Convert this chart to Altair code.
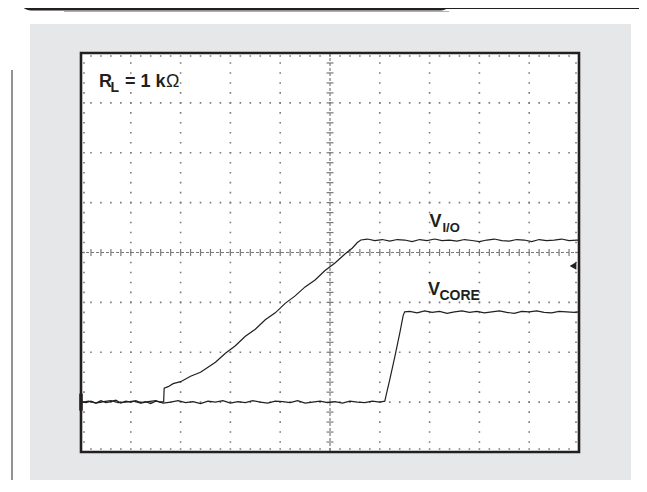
import altair as alt
import pandas as pd

# ---------------- data (oscilloscope divisions: x 0..10, y 0..8) ----------------
vio_x = [0.0, 0.1, 0.2, 0.3, 0.4, 0.5, 0.6, 0.7, 0.8, 0.9, 1.0, 1.1, 1.2, 1.3, 1.4, 1.5, 1.6, 1.66,
         1.67, 1.75, 1.85, 2.0, 2.2, 2.4, 2.55, 2.7, 2.9, 3.1, 3.3, 3.5, 3.7, 3.9, 4.1, 4.3, 4.5, 4.7,
         4.9, 5.1, 5.3, 5.45, 5.55, 5.62,
         5.75, 5.9, 6.05, 6.2, 6.35, 6.5, 6.65, 6.8, 6.95, 7.1, 7.25, 7.4, 7.55, 7.7, 7.85, 8.0,
         8.15, 8.3, 8.45, 8.6, 8.75, 8.9, 9.05, 9.2, 9.35, 9.5, 9.65, 9.8, 9.95, 10.0]
vio_y = [1.01, 0.99, 1.02, 0.98, 1.03, 0.99, 1.01, 1.04, 0.98, 1.02, 1.00, 1.03, 0.99, 1.01, 0.97, 1.02, 1.00, 1.01,
         1.28, 1.31, 1.37, 1.41, 1.52, 1.60, 1.70, 1.80, 1.98, 2.13, 2.32, 2.46, 2.65, 2.79, 2.98, 3.13, 3.31, 3.45,
         3.64, 3.79, 3.97, 4.09, 4.20, 4.25,
         4.27, 4.24, 4.26, 4.23, 4.26, 4.25, 4.22, 4.26, 4.24, 4.27, 4.24, 4.25, 4.23, 4.26, 4.24, 4.22,
         4.25, 4.27, 4.24, 4.23, 4.26, 4.25, 4.22, 4.26, 4.24, 4.25, 4.27, 4.24, 4.25, 4.25]

vcore_x = [0.0, 0.15, 0.3, 0.45, 0.6, 0.75, 0.9, 1.05, 1.2, 1.35, 1.5, 1.65, 1.8, 1.95, 2.1, 2.25, 2.4,
           2.55, 2.7, 2.85, 3.0, 3.15, 3.3, 3.45, 3.6, 3.75, 3.9, 4.05, 4.2, 4.35, 4.5, 4.65, 4.8, 4.95,
           5.1, 5.25, 5.4, 5.55, 5.7, 5.85, 6.0, 6.1,
           6.13, 6.2, 6.3, 6.4, 6.47, 6.5,
           6.6, 6.75, 6.9, 7.05, 7.2, 7.35, 7.5, 7.65, 7.8, 7.95, 8.1, 8.25, 8.4, 8.55, 8.7, 8.85, 9.0,
           9.15, 9.3, 9.45, 9.6, 9.75, 9.9, 10.0]
vcore_y = [0.99, 1.02, 0.98, 1.01, 1.03, 0.99, 1.00, 1.02, 0.98, 1.01, 1.03, 0.98, 1.00, 1.03, 0.99, 1.01, 0.97,
           1.02, 1.00, 1.03, 0.98, 1.01, 0.99, 1.03, 1.00, 0.98, 1.02, 1.01, 0.99, 1.03, 0.98, 1.00, 1.02, 0.99,
           1.01, 0.98, 1.02, 1.00, 0.99, 1.02, 1.00, 1.02,
           1.15, 1.45, 1.90, 2.38, 2.74, 2.81,
           2.82, 2.79, 2.83, 2.80, 2.82, 2.78, 2.81, 2.83, 2.80, 2.82, 2.79, 2.81, 2.83, 2.80, 2.78, 2.82, 2.81,
           2.83, 2.80, 2.79, 2.82, 2.81, 2.80, 2.81]

# text annotations (division coordinates)
bold_text = ["R", "L", "= 1 k", "V", "I/O", "V", "CORE"]
bold_x = [0.361, 0.592, 0.884, 6.998, 7.259, 6.968, 7.199]
bold_y = [7.318, 7.218, 7.318, 4.505, 4.417, 3.148, 3.048]
bold_size = [18, 14, 18, 18, 13, 18, 14]
ohm_text = ["\u03a9"]
ohm_x = [1.707]
ohm_y = [7.318]

# scope markers
ground_y = [0.83, 1.17]
trigger_x = [9.88]
trigger_y = [3.73]

grid_x = [1, 2, 3, 4, 6, 7, 8, 9]
grid_y = [1, 2, 3, 5, 6, 7]
minor = [round(i * 0.2, 2) for i in range(0, 51)]
minor_y = [round(i * 0.2, 2) for i in range(0, 41)]

# ---------------- layout ----------------
W, H = 498, 399
INK = "#231f20"
GRID = "#7a7a7a"

xs = alt.Scale(domain=[0, 10], nice=False, zero=False)
ys = alt.Scale(domain=[0, 8], nice=False, zero=False)

one = pd.DataFrame({"a": [0]})

gray_panel = alt.Chart(one).mark_rect(fill="#e6e7e8").encode(
    x=alt.value(-51), x2=alt.value(550), y=alt.value(-29), y2=alt.value(428))
side_line = alt.Chart(one).mark_rule(color="#6d6e71", strokeWidth=1.5).encode(
    x=alt.value(-69), y=alt.value(17), y2=alt.value(440))
header_bar = alt.Chart(one).mark_rect(fill=INK, cornerRadiusBottomLeft=12, cornerRadiusBottomRight=10).encode(
    x=alt.value(-62), x2=alt.value(370), y=alt.value(-70), y2=alt.value(-42.5))
header_line = alt.Chart(one).mark_rule(color=INK, strokeWidth=1).encode(
    x=alt.value(362), x2=alt.value(566), y=alt.value(-44.5))
header_shadow = alt.Chart(one).mark_rule(color="#b0b0b0", strokeWidth=1).encode(
    x=alt.value(-17), x2=alt.value(368), y=alt.value(-41.5))
plot_bg = alt.Chart(one).mark_rect(fill="white").encode(
    x=alt.value(0), x2=alt.value(W), y=alt.value(0), y2=alt.value(H))

vgrid = alt.Chart(pd.DataFrame({"x": grid_x})).mark_rule(
    color=GRID, strokeWidth=1.6, strokeDash=[1.6, 8.375], strokeDashOffset=0.8).encode(
    x=alt.X("x:Q", scale=xs, axis=None))
hgrid = alt.Chart(pd.DataFrame({"y": grid_y})).mark_rule(
    color=GRID, strokeWidth=1.6, strokeDash=[1.6, 8.36], strokeDashOffset=0.8).encode(
    y=alt.Y("y:Q", scale=ys, axis=None))

# edge dots along frame
edge_h = pd.DataFrame({"y": [0.06, 7.94]})
edge_v = pd.DataFrame({"x": [0.06, 9.94]})
edge_hr = alt.Chart(edge_h).mark_rule(
    color=GRID, strokeWidth=1.6, strokeDash=[1.6, 8.36], strokeDashOffset=0.8).encode(
    y=alt.Y("y:Q", scale=ys, axis=None))
edge_vr = alt.Chart(edge_v).mark_rule(
    color=GRID, strokeWidth=1.6, strokeDash=[1.6, 8.375], strokeDashOffset=0.8).encode(
    x=alt.X("x:Q", scale=xs, axis=None))

# center crosshair
cross_h = alt.Chart(pd.DataFrame({"y": [4]})).mark_rule(
    color=GRID, strokeWidth=1.2, strokeDash=[3, 2]).encode(y=alt.Y("y:Q", scale=ys, axis=None))
cross_v = alt.Chart(pd.DataFrame({"x": [5]})).mark_rule(
    color=GRID, strokeWidth=1.2, strokeDash=[3, 2]).encode(x=alt.X("x:Q", scale=xs, axis=None))
tick_h = alt.Chart(pd.DataFrame({"x": minor, "y1": [3.93] * len(minor), "y2": [4.07] * len(minor)})).mark_rule(
    color=GRID, strokeWidth=1.2).encode(
    x=alt.X("x:Q", scale=xs, axis=None), y=alt.Y("y1:Q", scale=ys, axis=None), y2="y2:Q")
tick_v = alt.Chart(pd.DataFrame({"y": minor_y, "x1": [4.93] * len(minor_y), "x2": [5.07] * len(minor_y)})).mark_rule(
    color=GRID, strokeWidth=1.2).encode(
    y=alt.Y("y:Q", scale=ys, axis=None), x=alt.X("x1:Q", scale=xs, axis=None), x2="x2:Q")

traces = pd.concat([
    pd.DataFrame({"x": vio_x, "y": vio_y, "s": "VIO", "o": range(len(vio_x))}),
    pd.DataFrame({"x": vcore_x, "y": vcore_y, "s": "VCORE", "o": range(len(vcore_x))}),
])
lines = alt.Chart(traces).mark_line(color=INK, strokeWidth=1.2, interpolate="linear").encode(
    x=alt.X("x:Q", scale=xs, axis=None),
    y=alt.Y("y:Q", scale=ys, axis=None),
    detail="s:N", order="o:Q")

labels_bold = alt.Chart(pd.DataFrame({"t": bold_text, "x": bold_x, "y": bold_y, "fs": bold_size})).mark_text(
    align="left", baseline="alphabetic", font="Liberation Sans", fontWeight="bold", color=INK).encode(
    x=alt.X("x:Q", scale=xs, axis=None), y=alt.Y("y:Q", scale=ys, axis=None),
    text="t:N", size=alt.Size("fs:Q", scale=None, legend=None))
labels_ohm = alt.Chart(pd.DataFrame({"t": ohm_text, "x": ohm_x, "y": ohm_y})).mark_text(
    align="left", baseline="alphabetic", font="Liberation Sans", fontSize=18, color=INK).encode(
    x=alt.X("x:Q", scale=xs, axis=None), y=alt.Y("y:Q", scale=ys, axis=None), text="t:N")

ground = alt.Chart(pd.DataFrame({"x": [0], "y1": [ground_y[0]], "y2": [ground_y[1]]})).mark_rule(
    color=INK, strokeWidth=3.5).encode(
    x=alt.X("x:Q", scale=xs, axis=None), y=alt.Y("y1:Q", scale=ys, axis=None), y2="y2:Q")
trigger = alt.Chart(pd.DataFrame({"x": trigger_x, "y": trigger_y})).mark_point(
    shape="triangle-left", filled=True, color=INK, size=60, opacity=1).encode(
    x=alt.X("x:Q", scale=xs, axis=None), y=alt.Y("y:Q", scale=ys, axis=None))

frame = alt.Chart(one).mark_rect(fill=None, stroke=INK, strokeWidth=2.6).encode(
    x=alt.value(0), x2=alt.value(W), y=alt.value(0), y2=alt.value(H))

chart = alt.layer(
    gray_panel, side_line, header_bar, header_line, header_shadow, plot_bg,
    vgrid, hgrid, edge_hr, edge_vr, cross_h, cross_v, tick_h, tick_v,
    lines, labels_bold, labels_ohm, ground, trigger, frame
).properties(
    width=W, height=H,
    autosize=alt.AutoSizeParams(type="none"),
    padding={"left": 73, "top": 45, "right": 60, "bottom": 28},
    background="white",
).configure_view(stroke=None)

chart.save("out.html", embed_options={"renderer": "svg", "actions": False})
